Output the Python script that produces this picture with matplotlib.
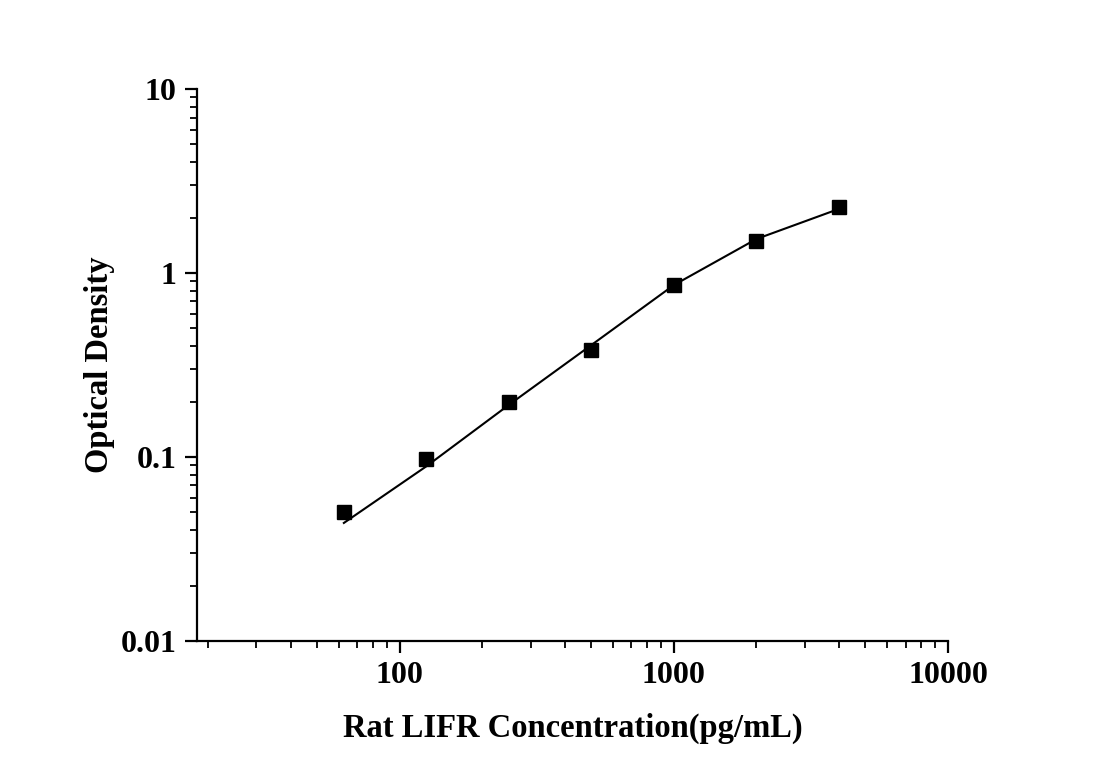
import matplotlib
matplotlib.use("Agg")
import matplotlib.pyplot as plt
from matplotlib.ticker import LogLocator, FixedLocator, FixedFormatter, NullFormatter

# Standard points
concentration = [62.5, 125, 250, 500, 1000, 2000, 4000]
optical_density = [0.050, 0.098, 0.199, 0.381, 0.86, 1.49, 2.28]

# Fitted curve values
curve_x = [62.5, 125, 250, 500, 1000, 2000, 4000]
curve_y = [0.0438, 0.089, 0.192, 0.406, 0.86, 1.53, 2.23]

x_ticks = [100, 1000, 10000]
x_tick_labels = ["100", "1000", "10000"]
y_ticks = [0.01, 0.1, 1, 10]
y_tick_labels = ["0.01", "0.1", "1", "10"]

plt.rcParams['font.family'] = ['Liberation Serif', 'DejaVu Serif']
plt.rcParams['font.weight'] = 'bold'

fig = plt.figure(figsize=(11, 7.68), dpi=100)
ax = fig.add_axes([0.1791, 0.1654, 0.8618 - 0.1791, 0.8841 - 0.1654])

ax.plot(curve_x, curve_y, color='black', linewidth=1.5, zorder=2)
ax.plot(concentration, optical_density, linestyle='none', marker='s',
        markersize=10, color='black', zorder=3)

ax.set_xscale('log')
ax.set_yscale('log')
ax.set_xlim(18.2, 10000)
ax.set_ylim(0.01, 10)

ax.xaxis.set_major_locator(FixedLocator(x_ticks))
ax.xaxis.set_major_formatter(FixedFormatter(x_tick_labels))
ax.yaxis.set_major_locator(FixedLocator(y_ticks))
ax.yaxis.set_major_formatter(FixedFormatter(y_tick_labels))
ax.xaxis.set_minor_locator(LogLocator(base=10, subs=range(2, 10), numticks=20))
ax.yaxis.set_minor_locator(LogLocator(base=10, subs=range(2, 10), numticks=20))
ax.xaxis.set_minor_formatter(NullFormatter())
ax.yaxis.set_minor_formatter(NullFormatter())

for s in ['top', 'right']:
    ax.spines[s].set_visible(False)
for s in ['left', 'bottom']:
    ax.spines[s].set_linewidth(1.6)

ax.tick_params(which='major', direction='out', length=8.5, width=1.6,
               labelsize=23, pad=6)
ax.tick_params(which='minor', direction='out', length=5, width=1.3)
for lab in ax.get_xticklabels() + ax.get_yticklabels():
    lab.set_fontweight('bold')

ax.set_xlabel('Rat LIFR Concentration(pg/mL)', fontsize=23.5, fontweight='bold', labelpad=16)
ax.set_ylabel('Optical Density', fontsize=23.5, fontweight='bold', labelpad=4)

fig.savefig('out.png', dpi=100)
